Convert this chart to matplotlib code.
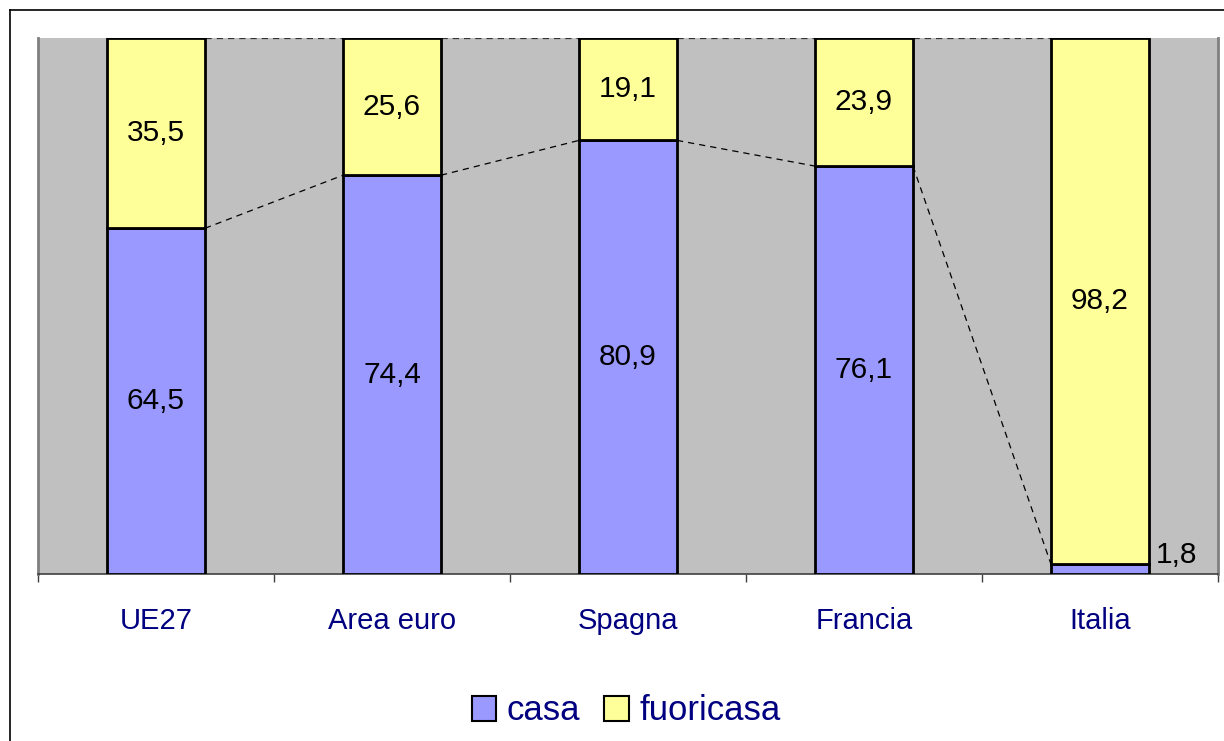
import matplotlib
matplotlib.use("Agg")
import matplotlib.pyplot as plt
from matplotlib.lines import Line2D
from matplotlib.patches import Patch

categories = ["UE27", "Area euro", "Spagna", "Francia", "Italia"]
casa = [64.5, 74.4, 80.9, 76.1, 1.8]
fuoricasa = [35.5, 25.6, 19.1, 23.9, 98.2]
series_names = ["casa", "fuoricasa"]

c_casa = "#9999FF"
c_fuori = "#FFFF99"
navy = "#000080"

plt.rcParams['font.family'] = ['Liberation Sans', 'DejaVu Sans']

W, H = 1224, 741
fig = plt.figure(figsize=(W / 100, H / 100), dpi=100)
ax = fig.add_axes([38 / W, 1 - 574 / H, (1218 - 38) / W, (574 - 38) / H])
ax.set_facecolor("#C0C0C0")

x = list(range(len(categories)))
bw = 0.415
ax.bar(x, casa, width=bw, color=c_casa, edgecolor="black", linewidth=2, zorder=3)
ax.bar(x, fuoricasa, width=bw, bottom=casa, color=c_fuori, edgecolor="black", linewidth=2, zorder=3)

# series lines
for i in range(len(x) - 1):
    ax.plot([x[i] + bw / 2, x[i + 1] - bw / 2], [casa[i], casa[i + 1]],
            ls=(0, (5, 4)), color="black", lw=0.9, zorder=2)
    top_i = casa[i] + fuoricasa[i]
    top_j = casa[i + 1] + fuoricasa[i + 1]
    ax.plot([x[i] + bw / 2, x[i + 1] - bw / 2], [top_i, top_j],
            ls=(0, (5, 4)), color="#333333", lw=0.9, zorder=2)

# data labels
for i in range(len(x)):
    if casa[i] > 5:
        ax.text(x[i], casa[i] / 2, f"{casa[i]:.1f}".replace(".", ","),
                ha="center", va="center", fontsize=21.5, zorder=4)
    else:
        ax.text(x[i] + bw / 2 + 0.03, casa[i] + 1.8, f"{casa[i]:.1f}".replace(".", ","),
                ha="left", va="center", fontsize=21.5, zorder=4)
    ax.text(x[i], casa[i] + fuoricasa[i] / 2, f"{fuoricasa[i]:.1f}".replace(".", ","),
            ha="center", va="center", fontsize=21.5, zorder=4)

ax.set_xlim(-0.5, len(x) - 0.5)
ax.set_ylim(0, 100)
ax.set_yticks([])
ax.set_xticks([i - 0.5 for i in range(len(x) + 1)])
ax.set_xticklabels([])
ax.tick_params(axis="x", length=6, color="#404040", width=1)
ax.set_xticks(x, minor=True)
ax.set_xticklabels(categories, minor=True, fontsize=21, color=navy)
ax.tick_params(axis="x", which="minor", length=0, pad=24)

ax.spines["top"].set_visible(False)
ax.spines["left"].set_color("#808080")
ax.spines["left"].set_linewidth(2)
ax.spines["right"].set_color("#808080")
ax.spines["right"].set_linewidth(2)
ax.spines["bottom"].set_color("#404040")
ax.spines["bottom"].set_linewidth(1.2)

# legend
handles = [Patch(facecolor=c_casa, edgecolor="black", linewidth=1.5),
           Patch(facecolor=c_fuori, edgecolor="black", linewidth=1.5)]
leg = fig.legend(handles, series_names, loc="center", bbox_to_anchor=(626 / W, 1 - 711 / H),
                 ncol=2, frameon=False, fontsize=25, handlelength=0.7, handleheight=0.7,
                 handletextpad=0.3, columnspacing=0.7)
for t in leg.get_texts():
    t.set_color(navy)

# outer chart border
fig.add_artist(Line2D([10 / W, 10 / W], [0, 1 - 10 / H], color="black", lw=1.2, transform=fig.transFigure))
fig.add_artist(Line2D([10 / W, 1], [1 - 10 / H, 1 - 10 / H], color="black", lw=1.2, transform=fig.transFigure))

fig.savefig("out.png", dpi=100)
